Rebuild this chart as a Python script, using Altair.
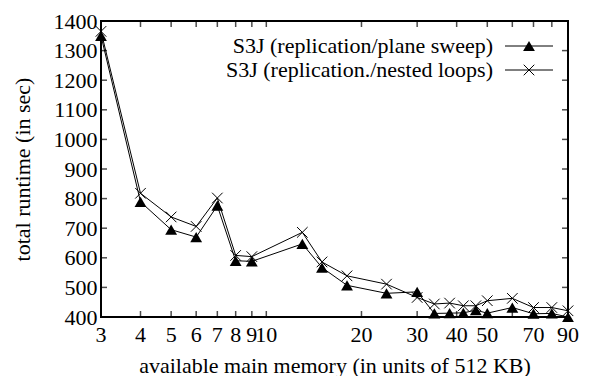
import altair as alt
import pandas as pd

# ---- data ----
memory = [3, 4, 5, 6, 7, 8, 9, 13, 15, 18, 24, 30, 34, 38, 42, 46, 50, 60, 70, 80, 90]
plane_sweep = [1350, 789, 695, 670, 776, 590, 588, 647, 567, 507, 480, 485,
               412, 413, 414, 423, 413, 432, 411, 412, 400]
nested_loops = [1365, 818, 738, 706, 802, 608, 604, 686, 586, 539, 511, 466,
                444, 447, 438, 438, 455, 463, 432, 432, 421]
series_names = ["S3J (replication/plane sweep)", "S3J (replication./nested loops)"]
x_ticks = [3, 4, 5, 6, 7, 8, 9, 10, 20, 30, 40, 50, 60, 70, 80, 90]
x_tick_labels = ["3", "4", "5", "6", "7", "8", "9", "10", "20", "30", "40", "50",
                 "", "70", "", "90"]
y_ticks = [400, 500, 600, 700, 800, 900, 1000, 1100, 1200, 1300, 1400]

FONT = "Liberation Serif"
FS = 22
W, H = 467, 296

df1 = pd.DataFrame({"memory": memory, "runtime": plane_sweep})
df2 = pd.DataFrame({"memory": memory, "runtime": nested_loops})

xscale = alt.Scale(type="log", domain=[3, 90], nice=False)
yscale = alt.Scale(domain=[400, 1400], nice=False, zero=False)

xaxis = alt.Axis(values=x_ticks, labels=False,
                 title="available main memory (in units of 512 KB)", grid=False,
                 tickSize=0, domain=False, titleY=55, titleBaseline="alphabetic")
yaxis = alt.Axis(values=y_ticks, title="total runtime (in sec)", grid=False, format="d",
                 tickSize=0, domain=False, labelPadding=4,
                 titleX=-72, titleBaseline="alphabetic", titleAngle=270)

X = alt.X("memory:Q", scale=xscale, axis=xaxis)
Y = alt.Y("runtime:Q", scale=yscale, axis=yaxis)

line1 = alt.Chart(df1).mark_line(color="black", strokeWidth=1).encode(x=X, y=Y)
line2 = alt.Chart(df2).mark_line(color="black", strokeWidth=1).encode(x=X, y=Y)
pts1 = alt.Chart(df1).mark_point(shape="triangle-up", filled=True, color="black",
                                 size=140, opacity=1).encode(x=X, y=Y)
CROSS = "M-1,-1L1,1M-1,1L1,-1"
pts2 = alt.Chart(df2).mark_point(shape=CROSS, filled=False, color="black",
                                 size=112, strokeWidth=1, opacity=1).encode(x=X, y=Y)

# inward ticks (clipped to plot area)
xt = pd.DataFrame({"memory": x_ticks, "label": x_tick_labels})
yt = pd.DataFrame({"runtime": y_ticks})
ticks_bottom = alt.Chart(xt).mark_tick(orient="vertical", size=12, thickness=1.5,
                                       color="black", clip=True).encode(x=X, y=alt.value(H))
ticks_top = alt.Chart(xt).mark_tick(orient="vertical", size=12, thickness=1.5,
                                    color="black", clip=True).encode(x=X, y=alt.value(0))
ticks_left = alt.Chart(yt).mark_tick(orient="horizontal", size=12, thickness=1.5,
                                     color="black", clip=True).encode(y=Y, x=alt.value(0))
ticks_right = alt.Chart(yt).mark_tick(orient="horizontal", size=12, thickness=1.5,
                                      color="black", clip=True).encode(y=Y, x=alt.value(W))
# x tick labels placed through the x scale
x_labels = alt.Chart(xt).mark_text(font=FONT, fontSize=FS, color="black",
                                   align="center", baseline="alphabetic").encode(
    x=X, y=alt.value(H + 25), text="label:N")

# manual legend (gnuplot style: label, then line sample with marker)
leg = pd.DataFrame({"label": series_names})
legend_layers = []
rows = [(25, "tri"), (49, "cross")]
for i, (ly, kind) in enumerate(rows):
    d = leg.iloc[[i]]
    legend_layers.append(
        alt.Chart(d).mark_text(align="right", baseline="middle", font=FONT, fontSize=FS,
                               color="black")
        .encode(text="label:N", x=alt.value(392), y=alt.value(ly)))
    legend_layers.append(
        alt.Chart(d).mark_rule(color="black", strokeWidth=1)
        .encode(x=alt.value(404), x2=alt.value(452), y=alt.value(ly)))
    if kind == "tri":
        legend_layers.append(
            alt.Chart(d).mark_point(shape="triangle-up", filled=True, color="black",
                                    size=140, opacity=1)
            .encode(x=alt.value(428), y=alt.value(ly)))
    else:
        legend_layers.append(
            alt.Chart(d).mark_point(shape=CROSS, filled=False, color="black",
                                    size=112, strokeWidth=1, opacity=1)
            .encode(x=alt.value(428), y=alt.value(ly)))

chart = alt.layer(
    line1, line2, pts1, pts2,
    ticks_bottom, ticks_top, ticks_left, ticks_right, x_labels,
    *legend_layers
).properties(
    width=W, height=H,
    autosize=alt.AutoSizeParams(type="none"),
    padding={"left": 101, "top": 21, "right": 21, "bottom": 59},
    background="white",
).configure_view(
    stroke="black", strokeWidth=2
).configure_axis(
    labelFont=FONT, titleFont=FONT, labelFontSize=FS, titleFontSize=FS,
    labelColor="black", titleColor="black", titleFontWeight="normal"
)

chart.save("out.html", embed_options={"renderer": "svg", "actions": False})
